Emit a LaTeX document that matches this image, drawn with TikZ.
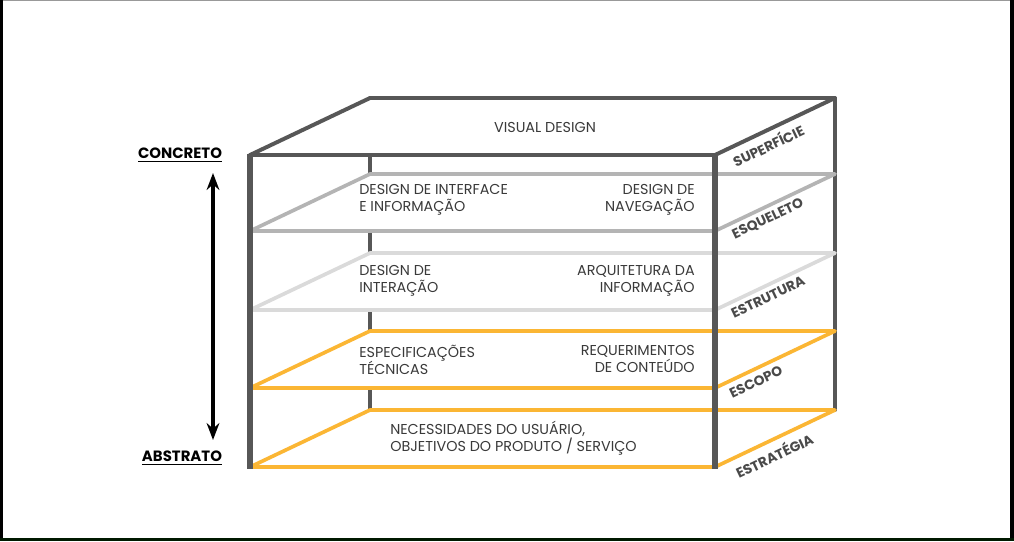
\documentclass[tikz,border=0pt]{standalone}
\usepackage{fontspec}
\setmainfont{Poppins}
\usepackage{tikz}
\usetikzlibrary{positioning,arrows.meta,calc}

\definecolor{boxgrey}{HTML}{575757}
\definecolor{skelgrey}{HTML}{B4B4B4}
\definecolor{strucgrey}{HTML}{DADADA}
\definecolor{layerorange}{HTML}{FBB634}
\definecolor{labelgrey}{HTML}{4A4A4A}
\definecolor{textgrey}{HTML}{3A3A3A}

\tikzset{
  boxline/.style={boxgrey,line width=2.8pt,line cap=round,line join=round},
  frontline/.style={boxgrey,line width=3.6pt},
  layer/.style={line width=2.6pt,line join=round,fill=white},
  boxtext/.style={textgrey,font=\fontsize{10.2}{12.2}\selectfont,inner sep=0pt},
  sidelabel/.style={labelgrey,font=\bfseries\fontsize{9.8}{11}\selectfont,rotate=25.4,inner sep=0pt},
  levellabel/.style={black,font=\bfseries\fontsize{10.6}{12}\selectfont,inner sep=1pt}
}

\newcommand{\thickunder}[1]{\underline{#1}}

\begin{document}
\begin{tikzpicture}[x=0.025cm,y=-0.025cm]

% ============================
% CANVAS AND SCREEN FRAME
% ============================

\useasboundingbox (0,0) rectangle (1014,541);
\fill[white] (0,0) rectangle (1014,541);
\fill[black!40] (0,0) rectangle (1014,1);
\fill[black] (0,0) rectangle (3,541);
\fill[black] (1010,0) rectangle (1014,541);
\fill[black!90!green] (0,538) rectangle (1014,541);

% ============================
% BOX CORNERS
% ============================

% Front face coordinates
\coordinate (FTL) at (250,155);
\coordinate (FTR) at (715,155);
\coordinate (FBL) at (250,467);
\coordinate (FBR) at (715,467);

% Depth shift vector
\coordinate (depth) at (120,-57);

% Back face coordinates
\coordinate (BTL) at ($(FTL)+(depth)$);
\coordinate (BTR) at ($(FTR)+(depth)$);
\coordinate (BBL) at ($(FBL)+(depth)$);
\coordinate (BBR) at ($(FBR)+(depth)$);

% Back verticals (hidden behind the layers)
\draw[boxline] (BTL) -- (BBL);
\draw[boxline] (BTR) -- (BBR);

% ============================
% TOP FACE
% ============================

\filldraw[boxline,fill=white] (FTL) -- (FTR) -- (BTR) -- (BTL) -- cycle;
\node[boxtext] (visual) at (545,127) {VISUAL DESIGN};

% ============================
% LAYERS
% ============================

\foreach \yy/\col/\nm in {231/skelgrey/skel, 310/strucgrey/struc, 388/layerorange/scope, 467/layerorange/strat} {
  \coordinate (\nm A) at (250,\yy);
  \coordinate (\nm B) at (715,\yy);
  \filldraw[layer,draw=\col] (\nm A) -- (\nm B) -- ($(\nm B)+(depth)$) -- ($(\nm A)+(depth)$) -- cycle;
}

% Front verticals
\draw[frontline] ($(FTL)+(0,-1.5)$) -- ($(FBL)+(0,1.5)$);
\draw[frontline] ($(FTR)+(0,-1.5)$) -- ($(FBR)+(0,1.5)$);
\draw[boxline] (FTL) -- (FTR);

% ============================
% LAYER TEXTS
% ============================

\node[boxtext,anchor=north west,align=left] (iface) at (359,184) {DESIGN DE INTERFACE\\E INFORMAÇÃO};
\node[boxtext,anchor=north east,align=right] (nav) at (695,184) {DESIGN DE\\NAVEGAÇÃO};
\node[boxtext,anchor=north west,align=left] (inter) at (359,265) {DESIGN DE\\INTERAÇÃO};
\node[boxtext,anchor=north east,align=right] (arch) at (695,265) {ARQUITETURA DA\\INFORMAÇÃO};
\node[boxtext,anchor=north west,align=left] (spec) at (359,345) {ESPECIFICAÇÕES\\TÉCNICAS};
\node[boxtext,anchor=north east,align=right] (req) at (695,345) {REQUERIMENTOS\\DE CONTEÚDO};
\node[boxtext,anchor=north west,align=left] (needs) at (390,421) {NECESSIDADES DO USUÁRIO,\\OBJETIVOS DO PRODUTO / SERVIÇO};

% ============================
% SIDE LABELS
% ============================

\node[sidelabel] (surf) at (768,145) {SUPERFÍCIE};
\node[sidelabel] (skel) at (768,219) {ESQUELETO};
\node[sidelabel] (struc) at (768,297) {ESTRUTURA};
\node[sidelabel] (scope) at (756,382) {ESCOPO};
\node[sidelabel] (strat) at (774,455) {ESTRATÉGIA};

% ============================
% CONCRETE / ABSTRACT AXIS
% ============================

\node[levellabel] (concrete) at (180,155) {\thickunder{CONCRETO}};
\node[levellabel] (abstract) at (182,458) {\thickunder{ABSTRATO}};
\coordinate (axtop) at (213,173);
\coordinate (axbot) at (213,440);
\draw[{Stealth[length=12pt,width=9pt]}-{Stealth[length=12pt,width=9pt]},line width=2.2pt] (axtop) -- (axbot);

\end{tikzpicture}
\end{document}
